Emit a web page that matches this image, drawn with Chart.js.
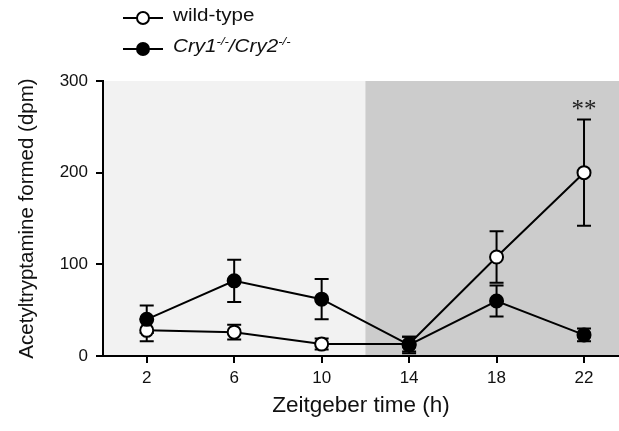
<!DOCTYPE html>
<html>
<head>
<meta charset="utf-8">
<script src="https://cdn.jsdelivr.net/npm/chart.js@4/dist/chart.umd.min.js"></script>
<style>
  html, body { margin: 0; padding: 0; background: #fff; }
  #wrap { position: relative; width: 619px; height: 431px; }
  #legend { position: absolute; left: 123px; top: 6px; font-family: "Liberation Sans", Arial, sans-serif; font-size: 17.5px; color: #111; }
  .row { position: relative; height: 31px; }
  .line { position: absolute; left: 0; top: 11px; width: 40px; height: 2px; background: #000; }
  .dot { position: absolute; left: 13px; top: 5px; width: 10px; height: 10px; border: 2px solid #000; border-radius: 50%; }
  .txt { position: absolute; left: 50px; top: -1px; white-space: nowrap; transform: scaleX(1.18); transform-origin: left center; }
  sup { font-size: 11px; vertical-align: 7px; line-height: 0; }
</style>
</head>
<body>
<div id="wrap">
  <canvas id="chart" width="619" height="431"></canvas>
  <div id="legend">
    <div class="row"><div class="line"></div><div class="dot" style="background:#fff"></div><div class="txt">wild-type</div></div>
    <div class="row"><div class="line"></div><div class="dot" style="background:#000"></div><div class="txt"><i>Cry1<sup>-/-</sup>/Cry2<sup>-/-</sup></i></div></div>
  </div>
</div>
<script>
// Zeitgeber time points (h)
const zt = [2, 6, 10, 14, 18, 22];

// wild-type mean and error (dpm)
const wildType = [28, 26, 13, 13, 108, 200];
const wildTypeErr = [12, 8, 6, 8, 28, 58];

// Cry1-/-/Cry2-/- mean and error (dpm)
const cryKO = [40, 82, 62, 12, 60, 23];
const cryKOErr = [15, 23, 22, 9, 17, 7];

const xTicks = [2, 6, 10, 14, 18, 22];
const yTicks = [0, 100, 200, 300];

// light / dark phases (h)
const lightPhase = [0, 12];
const darkPhase = [12, 24];

const font = '"Liberation Sans", Arial, sans-serif';

const phasePlugin = {
    id: 'phases',
    beforeDraw(chart) {
        const { ctx, chartArea, scales } = chart;
        const x = scales.x;
        ctx.save();
        ctx.beginPath();
        ctx.rect(chartArea.left, chartArea.top, chartArea.right - chartArea.left, chartArea.bottom - chartArea.top);
        ctx.clip();
        ctx.fillStyle = '#f2f2f2';
        ctx.fillRect(x.getPixelForValue(lightPhase[0]), chartArea.top,
            x.getPixelForValue(lightPhase[1]) - x.getPixelForValue(lightPhase[0]), chartArea.bottom - chartArea.top);
        ctx.fillStyle = '#cccccc';
        ctx.fillRect(x.getPixelForValue(darkPhase[0]), chartArea.top,
            x.getPixelForValue(darkPhase[1]) - x.getPixelForValue(darkPhase[0]), chartArea.bottom - chartArea.top);
        ctx.restore();
    }
};

const errorBarPlugin = {
    id: 'errorBars',
    beforeDatasetsDraw(chart) {
        const { ctx, scales } = chart;
        const sets = [[wildType, wildTypeErr], [cryKO, cryKOErr]];
        ctx.save();
        ctx.strokeStyle = '#000';
        ctx.lineWidth = 2;
        sets.forEach(([vals, errs]) => {
            for (let i = 0; i < zt.length; i++) {
                const px = scales.x.getPixelForValue(zt[i]);
                const top = scales.y.getPixelForValue(vals[i] + errs[i]);
                const bot = scales.y.getPixelForValue(vals[i] - errs[i]);
                ctx.beginPath();
                ctx.moveTo(px, top); ctx.lineTo(px, bot);
                ctx.moveTo(px - 7, top); ctx.lineTo(px + 7, top);
                ctx.moveTo(px - 7, bot); ctx.lineTo(px + 7, bot);
                ctx.stroke();
            }
        });
        ctx.restore();
    },
    afterDatasetsDraw(chart) {
        // significance mark over the last wild-type point
        const { ctx, scales } = chart;
        const i = zt.length - 1;
        const px = scales.x.getPixelForValue(zt[i]);
        const py = scales.y.getPixelForValue(wildType[i] + wildTypeErr[i]);
        ctx.save();
        ctx.fillStyle = '#222';
        ctx.font = '25px "Liberation Serif", "Times New Roman", serif';
        ctx.textAlign = 'center';
        ctx.textBaseline = 'alphabetic';
        ctx.fillText('**', px, py - 3);
        ctx.restore();
    }
};

const ctx = document.getElementById('chart').getContext('2d');

new Chart(ctx, {
    type: 'line',
    data: {
        datasets: [{
            label: 'Cry1-/-/Cry2-/-',
            data: zt.map((x, i) => ({ x: x, y: cryKO[i] })),
            borderColor: '#000',
            borderWidth: 2,
            backgroundColor: '#000',
            pointBackgroundColor: '#000',
            pointBorderColor: '#000',
            pointBorderWidth: 2,
            pointRadius: 6.5,
            tension: 0,
            order: 0
        }, {
            label: 'wild-type',
            data: zt.map((x, i) => ({ x: x, y: wildType[i] })),
            borderColor: '#000',
            borderWidth: 2,
            backgroundColor: '#fff',
            pointBackgroundColor: '#fff',
            pointBorderColor: '#000',
            pointBorderWidth: 2,
            pointRadius: 6.5,
            tension: 0,
            order: 1
        }]
    },
    options: {
        responsive: false,
        animation: false,
        clip: false,
        layout: { autoPadding: false, padding: { top: 81, right: 0, left: 0, bottom: 0 } },
        plugins: {
            legend: { display: false },
            tooltip: { enabled: false }
        },
        scales: {
            x: {
                type: 'linear',
                min: 0,
                max: 23.6,
                afterBuildTicks: (axis) => { axis.ticks = xTicks.map(v => ({ value: v })); },
                afterFit: (axis) => { axis.height = 75; axis.paddingLeft = 0; axis.paddingRight = 0; },
                grid: { display: true, drawOnChartArea: false, drawTicks: true, tickLength: 7, color: '#000', lineWidth: 2 },
                border: { display: true, color: '#000', width: 2 },
                ticks: { color: '#111', font: { family: font, size: 17 }, padding: 5, maxRotation: 0, autoSkip: false },
                title: { display: true, text: 'Zeitgeber time (h)', color: '#111', font: { family: font, size: 22.5 }, padding: { top: 4, bottom: 12 } }
            },
            y: {
                min: 0,
                max: 300,
                afterBuildTicks: (axis) => { axis.ticks = yTicks.map(v => ({ value: v })); },
                afterFit: (axis) => { axis.width = 103; axis.paddingTop = 0; axis.paddingBottom = 0; },
                grid: { display: true, drawOnChartArea: false, drawTicks: true, tickLength: 7, color: '#000', lineWidth: 2 },
                border: { display: true, color: '#000', width: 2 },
                ticks: { color: '#111', font: { family: font, size: 17 }, padding: 8 },
                title: { display: true, text: 'Acetyltryptamine formed (dpm)', color: '#111', font: { family: font, size: 20.5 }, padding: { top: 15, bottom: 0 } }
            }
        }
    },
    plugins: [phasePlugin, errorBarPlugin]
});
</script>
</body>
</html>
